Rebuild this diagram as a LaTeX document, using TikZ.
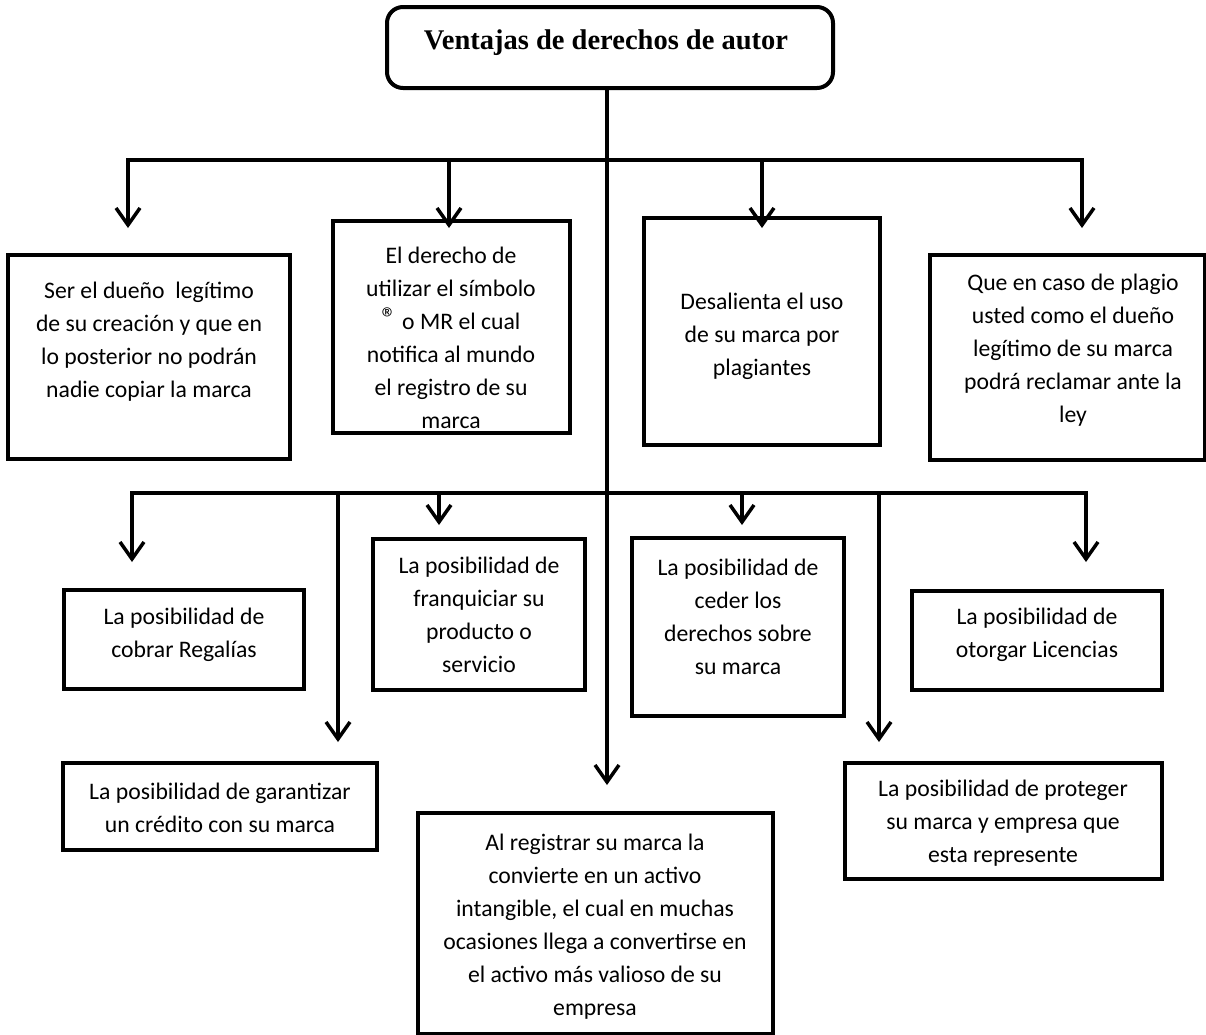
\documentclass[tikz,border=0pt]{standalone}
\usepackage{fontspec}
\setmainfont{Carlito}
\newfontfamily\titlefont{Liberation Serif}
\usetikzlibrary{arrows.meta,fit}

\newcommand{\regmark}{\raisebox{0.05em}{\fontsize{30}{30}\selectfont ®}}

\begin{document}
\begin{tikzpicture}[x=1pt,y=-1pt,
  line join=miter,
  arrowlink/.style={line width=3.5pt,-{Straight Barb[length=17pt,width=24pt]}},
  box/.style={draw,line width=3.5pt,inner sep=0pt},
  txt/.style={align=center,font=\fontsize{23.7}{33}\selectfont,inner sep=0pt},
]
% canvas
\fill[white] (0,0) rectangle (1206,1034);
\useasboundingbox (0,0) rectangle (1206,1034);

% title
\node[draw,line width=4pt,rounded corners=16pt,inner sep=0pt,fit={(387,7) (833,88)}] (ttl) {};
\node[inner sep=0pt,font=\titlefont\bfseries\fontsize{28.5}{30}\selectfont] (ttltxt) at (606,43) {Ventajas de derechos de autor};

% first row
\node[box,fit={(8,255) (290,459)}] (b1) {};
\node[txt] (t1) at (149,342) {Ser el dueño\ \ legítimo\\de su creación y que en\\lo posterior no podrán\\nadie copiar la marca};
\node[box,fit={(333,221) (570,433)}] (b2) {};
\node[txt] (t2) at (451,338) {El derecho de\\utilizar el símbolo\\\regmark\ o MR el cual\\notifica al mundo\\el registro de su\\marca};
\node[box,fit={(644,218) (880,445)}] (b3) {};
\node[txt] (t3) at (762,336) {Desalienta el uso\\de su marca por\\plagiantes};
\node[box,fit={(930,255) (1205,460)}] (b4) {};
\node[txt] (t4) at (1073,350) {Que en caso de plagio\\usted como el dueño\\legítimo de su marca\\podrá reclamar ante la\\ley};

% second row
\node[box,fit={(64,590) (304,689)}] (b5) {};
\node[txt] (t5) at (184,635) {La posibilidad de\\cobrar Regalías};
\node[box,fit={(373,539) (585,690)}] (b6) {};
\node[txt] (t6) at (479,615) {La posibilidad de\\franquiciar su\\producto o\\servicio};
\node[box,fit={(632,538) (844,716)}] (b7) {};
\node[txt] (t7) at (738,617) {La posibilidad de\\ceder los\\derechos sobre\\su marca};
\node[box,fit={(912,591) (1162,690)}] (b8) {};
\node[txt] (t8) at (1037,635) {La posibilidad de\\otorgar Licencias};

% third row
\node[box,fit={(63,763) (377,850)}] (b9) {};
\node[txt] (t9) at (220,808) {La posibilidad de garantizar\\un crédito con su marca};
\node[box,fit={(418,813) (773,1034)}] (b10) {};
\node[txt] (t10) at (595,927) {Al registrar su marca la\\convierte en un activo\\intangible, el cual en muchas\\ocasiones llega a convertirse en\\el activo más valioso de su\\empresa};
\node[box,fit={(845,763) (1162,879)}] (b11) {};
\node[txt] (t11) at (1003,823) {La posibilidad de proteger\\su marca y empresa que\\esta represente};

% junctions and arrow ends
\coordinate (j1) at (607,160);
\coordinate (j2) at (607,493);
\coordinate (a1) at (128,228);
\coordinate (a2) at (449,228);
\coordinate (a3) at (762,228);
\coordinate (a4) at (1082,228);
\coordinate (c1) at (132,562);
\coordinate (c2) at (338,742);
\coordinate (c3) at (439,525);
\coordinate (c4) at (742,525);
\coordinate (c5) at (879,742);
\coordinate (c6) at (1086,562);
\coordinate (cend) at (607,785);

% trunk
\draw[arrowlink] (ttl.south -| j1) -- (cend);

% first branch level
\draw[arrowlink] (j1) -| (a1);
\draw[arrowlink] (j1) -| (a4);
\draw[arrowlink] (j1 -| a2) -- (a2);
\draw[arrowlink] (j1 -| a3) -- (a3);

% second branch level
\draw[arrowlink] (j2) -| (c1);
\draw[arrowlink] (j2) -| (c6);
\draw[arrowlink] (j2 -| c2) -- (c2);
\draw[arrowlink] (j2 -| c3) -- (c3);
\draw[arrowlink] (j2 -| c4) -- (c4);
\draw[arrowlink] (j2 -| c5) -- (c5);
\end{tikzpicture}
\end{document}
